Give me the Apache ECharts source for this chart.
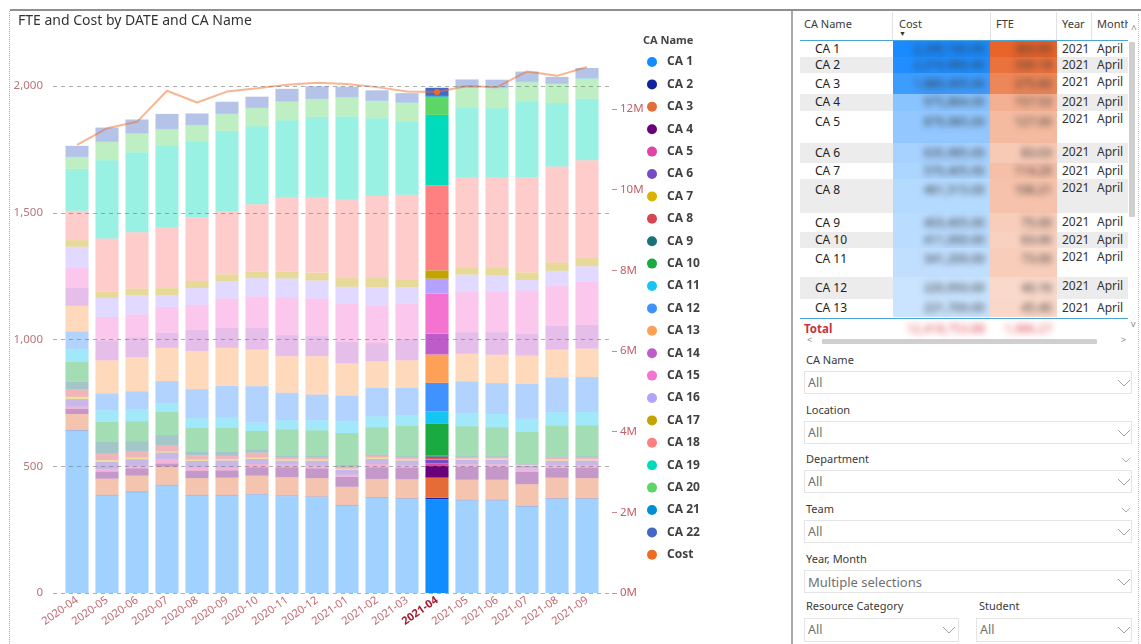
<!DOCTYPE html>
<html>
<head>
<meta charset="utf-8">
<title>FTE and Cost by DATE and CA Name</title>
<script src="https://cdn.jsdelivr.net/npm/echarts@6.0.0/dist/echarts.min.js"></script>
<style>
  html, body { margin: 0; padding: 0; background: #fff; }
  body { font-family: 'Noto Sans', 'Open Sans', sans-serif; color: #333; }
  #page { position: relative; width: 1141px; height: 644px; overflow: hidden; }
  #chart { position: absolute; left: 0; top: 0; width: 792px; height: 644px; }
  .abs { position: absolute; white-space: nowrap; }
  .abs svg { display: block; }
  .blur { filter: blur(3px); }
</style>
</head>
<body>
<div id="page">
  <div id="chart"></div>
</div>
<script>
// months on the x axis, 2021-04 is the selected one
const categories = ['2020-04', '2020-05', '2020-06', '2020-07', '2020-08', '2020-09', '2020-10', '2020-11', '2020-12',
  '2021-01', '2021-02', '2021-03', '2021-04', '2021-05', '2021-06', '2021-07', '2021-08', '2021-09'];
const selectedIndex = 12;

const caNames = ['CA 1', 'CA 2', 'CA 3', 'CA 4', 'CA 5', 'CA 6', 'CA 7', 'CA 8', 'CA 9', 'CA 10', 'CA 11',
  'CA 12', 'CA 13', 'CA 14', 'CA 15', 'CA 16', 'CA 17', 'CA 18', 'CA 19', 'CA 20', 'CA 21', 'CA 22'];

// FTE per CA and month (stack order, bottom first)
const ca1  = [640, 384, 398, 424, 384, 384, 388, 382, 378, 345, 375, 371, 370, 365, 365, 341, 371, 371];
const ca2  = [3, 3, 3, 3, 3, 3, 3, 3, 3, 3, 3, 3, 6, 3, 3, 3, 3, 3];
const ca3  = [63, 64, 62, 71, 66, 68, 72, 72, 72, 71, 72, 75, 79, 79, 79, 85, 81, 79];
const ca4  = [20, 28, 29, 13, 29, 29, 33, 39, 39, 39, 46, 46, 46, 50, 50, 49, 39, 42];
const ca5  = [9, 9, 8, 17, 13, 10, 13, 10, 10, 8, 13, 10, 10, 10, 10, 13, 10, 10];
const ca6  = [30, 30, 28, 26, 26, 29, 20, 16, 20, 20, 20, 18, 16, 18, 18, 10, 18, 18];
const ca7  = [9, 6, 6, 4, 5, 5, 5, 5, 5, 4, 5, 5, 2, 5, 5, 3, 5, 5];
const ca8  = [30, 26, 26, 26, 17, 13, 20, 7, 7, 8, 7, 7, 9, 7, 7, 3, 7, 7];
const ca9  = [30, 46, 39, 39, 16, 17, 13, 7, 7, 8, 5, 5, 4, 5, 5, 3, 5, 5];
const ca10 = [79, 79, 79, 92, 94, 94, 72, 105, 101, 125, 108, 119, 125, 116, 112, 125, 122, 122];
const ca11 = [49, 46, 46, 33, 37, 39, 33, 35, 39, 46, 43, 42, 50, 52, 52, 52, 52, 52];
const ca12 = [70, 66, 72, 88, 114, 126, 144, 109, 102, 102, 112, 108, 112, 125, 122, 138, 138, 138];
const ca13 = [101, 131, 134, 131, 151, 150, 144, 144, 151, 127, 105, 109, 112, 109, 112, 112, 109, 112];
const ca14 = [72, 79, 79, 60, 83, 79, 85, 83, 79, 85, 72, 85, 82, 85, 89, 85, 94, 94];
const ca15 = [79, 92, 90, 101, 99, 116, 125, 150, 149, 151, 149, 138, 158, 161, 161, 171, 158, 171];
const ca16 = [82, 75, 76, 46, 66, 69, 72, 74, 71, 66, 71, 66, 59, 66, 63, 42, 59, 60];
const ca17 = [26, 26, 26, 29, 29, 26, 26, 26, 30, 36, 37, 30, 33, 29, 32, 30, 33, 32];
const ca18 = [116, 208, 222, 241, 250, 250, 266, 295, 296, 307, 323, 334, 336, 353, 356, 375, 379, 386];
const ca19 = [165, 309, 316, 319, 297, 316, 307, 303, 319, 329, 307, 287, 277, 277, 271, 300, 250, 243];
const ca20 = [46, 72, 73, 66, 66, 66, 72, 73, 70, 75, 68, 76, 72, 77, 79, 75, 75, 79];
const ca21 = [2, 2, 2, 2, 2, 2, 2, 2, 2, 2, 2, 2, 3, 2, 2, 2, 2, 2];
const ca22 = [43, 55, 54, 59, 45, 47, 43, 49, 49, 40, 40, 36, 32, 32, 32, 40, 26, 40];
const caValues = [ca1, ca2, ca3, ca4, ca5, ca6, ca7, ca8, ca9, ca10, ca11, ca12, ca13, ca14, ca15, ca16,
  ca17, ca18, ca19, ca20, ca21, ca22];

// total cost per month
const costValues = [11110000, 11520000, 11680000, 12450000, 12160000, 12430000, 12510000, 12600000, 12650000,
  12620000, 12540000, 12430000, 12418754, 12570000, 12540000, 12930000, 12820000, 13040000];

const costTicks = [0, 2000000, 4000000, 6000000, 8000000, 10000000, 12000000];

// table on the right (values are blurred in the source)
const tableNames = ['CA 1', 'CA 2', 'CA 3', 'CA 4', 'CA 5', 'CA 6', 'CA 7', 'CA 8', 'CA 9', 'CA 10', 'CA 11', 'CA 12', 'CA 13'];
const tableCost = [2290160, 2210960, 1880495, 975884, 879985, 635985, 570405, 461515, 403405, 411000, 341200, 220950, 221700];
const tableFte = [369.89, 330.18, 275.60, 157.53, 127.00, 83.03, 114.20, 106.21, 75.00, 63.00, 73.00, 40.16, 45.40];
const tableYear = '2021';
const tableMonth = 'April';
const tableTotalCost = 12418753.88;
const tableTotalFte = 1986.27;

const slicers = [
  ['CA Name', 'All'], ['Location', 'All'], ['Department', 'All'], ['Team', 'All'], ['Year, Month', 'Multiple selections']
];

const caColors = ['#118DFF', '#12239E', '#E66C37', '#6B007B', '#E044A7', '#744EC2', '#D9B300', '#D64550',
  '#197278', '#1AAB40', '#15C6F4', '#4092FF', '#FFA058', '#BE5DC9', '#F472D0', '#B5A1FF', '#C4A200',
  '#FF8080', '#00DBBC', '#5BD667', '#0091D5', '#4668C5'];

const chart = echarts.init(document.getElementById('chart'));

const barSeries = caNames.map((name, i) => ({
  name: name,
  type: 'bar',
  stack: 'fte',
  xAxisIndex: 0,
  yAxisIndex: 0,
  barCategoryGap: '23%',
  itemStyle: { color: caColors[i] },
  emphasis: { disabled: true },
  data: caValues[i].map((v, j) => ({ value: v, itemStyle: { opacity: j === selectedIndex ? 1 : 0.4 } }))
}));

const option = {
  animation: false,
  textStyle: { fontFamily: "'Noto Sans', 'Open Sans', sans-serif" },
  title: {
    text: 'FTE and Cost by DATE and CA Name',
    left: 13, top: 9,
    textStyle: { fontSize: 14, fontWeight: 'normal', color: '#333' }
  },
  graphic: [{
    type: 'text', left: 643, top: 35,
    style: { text: 'CA Name', font: "bold 11px 'Noto Sans'", fill: '#444' }
  }],
  legend: {
    data: caNames.concat(['Cost']),
    orient: 'vertical',
    left: 642, top: 50,
    icon: 'circle',
    itemWidth: 10, itemHeight: 10, itemGap: 8.4,
    selectedMode: false,
    textStyle: { fontSize: 12, fontWeight: 'bold', color: '#404040', lineHeight: 14, padding: [0, 0, 0, 5] }
  },
  grid: [
    { left: 62, right: 190, top: 48, bottom: 51 },
    { left: 53, right: 182, top: 86, bottom: 51 }
  ],
  xAxis: [{
    type: 'category', gridIndex: 0, data: categories,
    axisLine: { show: false }, axisTick: { show: false },
    axisLabel: {
      interval: 0, rotate: 35, margin: 6, fontSize: 11, color: '#c06a72',
      formatter: (v, i) => i === selectedIndex ? '{sel|' + v + '}' : v,
      rich: { sel: { fontWeight: 'bold', color: '#a3192f', fontSize: 11 } }
    }
  }, {
    type: 'value', gridIndex: 1, min: 0, max: 1, show: false
  }],
  yAxis: [{
    type: 'value', gridIndex: 0, min: 0, max: 2150, show: false
  }, {
    type: 'value', gridIndex: 0, position: 'right', min: 0, max: 13510000, interval: 2000000, offset: 10,
    axisLine: { show: false },
    axisTick: { show: true, customValues: costTicks, length: 5, lineStyle: { color: '#c98a8e' } },
    axisLabel: { customValues: costTicks, margin: 8, fontSize: 11.5, color: '#c06068',
      formatter: v => (v / 1000000) + 'M' },
    splitLine: { show: false }
  }, {
    type: 'value', gridIndex: 1, min: 0, max: 2000, interval: 500, z: 10,
    axisLine: { show: false }, axisTick: { show: false },
    axisLabel: { margin: 10, fontSize: 11.5, color: '#b8767b',
      formatter: v => v.toLocaleString('en-US') },
    splitLine: { show: true, lineStyle: { type: [4, 4], color: 'rgba(110,110,110,0.55)', width: 1 } }
  }],
  series: barSeries.concat([{
    name: 'Cost',
    type: 'line',
    xAxisIndex: 0,
    yAxisIndex: 1,
    z: 5,
    symbol: 'none',
    itemStyle: { color: '#F06A22' },
    lineStyle: { width: 2, color: 'rgba(240,110,40,0.5)' },
    emphasis: { disabled: true },
    data: costValues.map((v, j) => j === selectedIndex ? { value: v, symbol: 'circle', symbolSize: 6 } : v)
  }, {
    type: 'scatter', xAxisIndex: 1, yAxisIndex: 2, data: [], silent: true
  }])
};
chart.setOption(option);

// ---- frame and right panel (table + slicers) ----
const page = document.getElementById('page');
function put(text, css, cls) {
  const d = document.createElement('div');
  d.className = 'abs' + (cls ? ' ' + cls : '');
  d.style.cssText = css;
  if (text != null) d.textContent = text;
  page.appendChild(d);
  return d;
}
function mix(hex, t) {
  const r = parseInt(hex.slice(1, 3), 16), g = parseInt(hex.slice(3, 5), 16), b = parseInt(hex.slice(5, 7), 16);
  const m = c => Math.round(255 - t * (255 - c));
  return 'rgb(' + m(r) + ',' + m(g) + ',' + m(b) + ')';
}
const chevron = '<svg width="14" height="8"><polyline points="1,1 7,7 13,1" fill="none" stroke="#a0a0a0" stroke-width="1"/></svg>';
const smallChevron = '<svg width="10" height="6"><polyline points="1,1 5,5 9,1" fill="none" stroke="#a8a8a8" stroke-width="1"/></svg>';
const fmt2 = v => v.toLocaleString('en-US', { minimumFractionDigits: 2, maximumFractionDigits: 2 });

put(null, 'left:10px;top:9px;width:1131px;height:2px;background:#8f8f8f');
put(null, 'left:9px;top:11px;height:633px;border-left:1px dotted #a8a8a8');
put(null, 'left:791px;top:11px;width:2px;height:633px;background:#a9a9a9');
put(null, 'left:1138px;top:14px;height:630px;border-left:1px dotted #c4c4c4');

// header
const hdCss = 'top:16px;font-size:11px;line-height:16px;color:#3a3a3a;';
put('CA Name', hdCss + 'left:804px');
put('Cost', hdCss + 'left:899px');
put('\u25BC', 'left:899px;top:29px;font-size:7px;color:#333');
put('FTE', hdCss + 'left:996px');
put('Year', hdCss + 'left:1062px');
put('Month', hdCss + 'left:1097px;width:31px;overflow:hidden');
[892, 990, 1056, 1091].forEach(x => put(null, 'left:' + x + 'px;top:12px;width:1px;height:28px;background:#e2e2e2'));
put('^', 'left:1131px;top:22px;font-size:10px;color:#888');

const rowHeights = [16.7, 16, 20.6, 16.7, 32.7, 19.6, 16, 34.4, 19, 15.6, 29.4, 21.6, 18.4];
const maxCost = Math.max.apply(null, tableCost), maxFte = Math.max.apply(null, tableFte);
let rowTop = 40.7;
tableNames.forEach((name, i) => {
  const h = rowHeights[i];
  put(null, 'left:800px;top:' + rowTop + 'px;width:328px;height:' + h + 'px;background:' + (i % 2 ? '#ececec' : '#fff'));
  put(null, 'left:893px;top:' + rowTop + 'px;width:97px;height:' + h + 'px;background:' +
    mix('#1a8bff', 0.15 + 0.85 * tableCost[i] / maxCost));
  put(null, 'left:990px;top:' + rowTop + 'px;width:67px;height:' + h + 'px;background:' +
    mix('#e8642a', 0.15 + 0.85 * tableFte[i] / maxFte));
  const ny = rowTop + Math.min(h / 2, 11) - 8;
  const yy = rowTop + Math.min(h / 2, 8.5) - 8;
  const cell = 'font-size:12px;line-height:16px;';
  put(name, cell + 'left:815px;top:' + ny + 'px;color:#222');
  put(fmt2(tableCost[i]), cell + 'left:893px;width:92px;text-align:right;top:' + ny + 'px;color:#333', 'blur');
  put(fmt2(tableFte[i]), cell + 'left:990px;width:62px;text-align:right;top:' + ny + 'px;color:#333', 'blur');
  put(tableYear, cell + 'left:1062px;top:' + yy + 'px;color:#333');
  put(tableMonth, cell + 'left:1097px;top:' + yy + 'px;color:#333;width:31px;overflow:hidden');
  rowTop += h;
});
put(null, 'left:800px;top:39.5px;width:328px;height:1.5px;background:#4aa3d4');
put(null, 'left:800px;top:317.5px;width:328px;height:1.5px;background:#4aa3d4');
put('Total', 'left:804px;top:321px;font-size:11.5px;font-weight:bold;color:#c8333f;line-height:16px');
put(fmt2(tableTotalCost), 'left:893px;width:92px;text-align:right;top:321px;font-size:12px;color:#e0404c;line-height:16px', 'blur');
put(fmt2(tableTotalFte), 'left:990px;width:62px;text-align:right;top:321px;font-size:12px;color:#e0404c;line-height:16px', 'blur');
// scrollbars
put(null, 'left:1129px;top:42px;width:6px;height:175px;background:#cfcfcf;border-radius:1px');
put('v', 'left:1131px;top:317px;font-size:9px;color:#888');
put(null, 'left:822px;top:339px;width:275px;height:5px;background:#cfcfcf;border-radius:1px');
put('<', 'left:807px;top:333px;font-size:9px;color:#888');
put('>', 'left:1121px;top:333px;font-size:9px;color:#888');

// slicers
const lblCss = 'font-size:11px;line-height:14px;color:#3a3a3a;';
slicers.forEach((s, i) => {
  const y = 353 + i * 49.7;
  put(s[0], lblCss + 'left:806px;top:' + y + 'px');
  if (i === 2 || i === 3) put(null, 'left:1121px;top:' + (y + 5) + 'px').innerHTML = smallChevron;
  put(null, 'left:804px;top:' + (y + 18) + 'px;width:328px;height:23px;border:1px solid #e4e4e4;box-sizing:border-box');
  put(s[1], 'left:808px;top:' + (y + 20) + 'px;font-size:' + (i === 4 ? 13 : 12.5) + 'px;line-height:20px;color:#707070');
  put(null, 'left:1117px;top:' + (y + 26) + 'px').innerHTML = chevron;
});
put('Resource Category', lblCss + 'left:806px;top:599px');
put('Student', lblCss + 'left:979px;top:599px');
put(null, 'left:804px;top:618px;width:155px;height:24px;border:1px solid #e4e4e4;box-sizing:border-box');
put('All', 'left:808px;top:620px;font-size:12.5px;line-height:20px;color:#707070');
put(null, 'left:942px;top:626px').innerHTML = chevron;
put(null, 'left:976px;top:618px;width:156px;height:24px;border:1px solid #e4e4e4;box-sizing:border-box');
put('All', 'left:980px;top:620px;font-size:12.5px;line-height:20px;color:#707070');
put(null, 'left:1117px;top:626px').innerHTML = chevron;
</script>
</body>
</html>
